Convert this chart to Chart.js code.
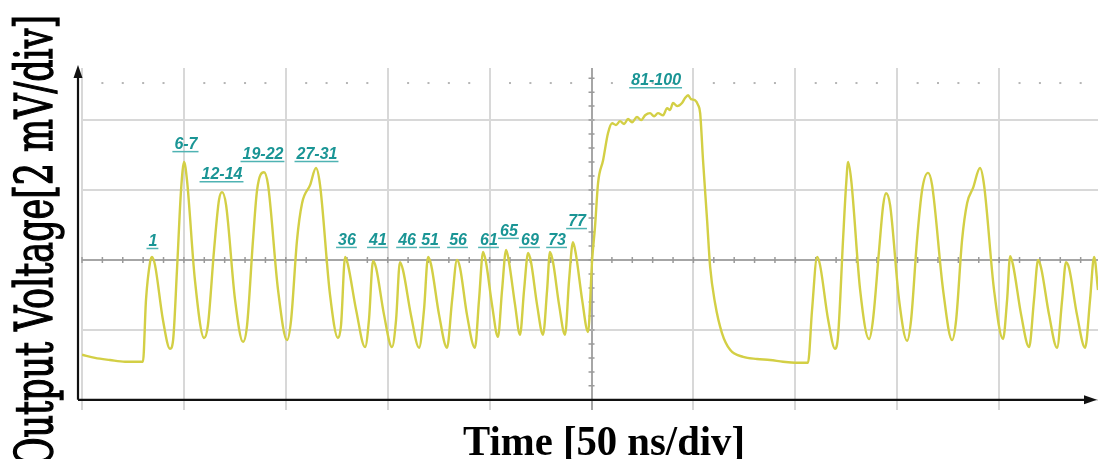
<!DOCTYPE html>
<html>
<head>
<meta charset="utf-8">
<title>Output voltage trace</title>
<script src="https://cdn.jsdelivr.net/npm/chart.js@4.4.1/dist/chart.umd.min.js"></script>
<style>
  html, body { margin: 0; padding: 0; background: #fff; }
  #wrap { width: 1098px; height: 459px; }
</style>
</head>
<body>
<div id="wrap"><canvas id="scope" width="1098" height="459"></canvas></div>
<script>
// trace: time in ns, voltage in mV (0 mV = centre line)
const timeNs = [
  0, 6.4, 13.7, 21.1, 29.9, 31.4, 33.4, 34.3, 35.8, 39.7,
  43.2, 44.7, 46.6, 48.6, 50.1, 51.5, 55.4, 59.9, 61.8, 64.8,
  67.2, 68.7, 70.7, 75.1, 79.0, 81.0, 83.9, 85.9, 89.3, 91.3,
  96.2, 100.6, 102.6, 105.5, 108.0, 111.9, 114.8, 116.8, 121.7, 125.6,
  127.1, 129.1, 130.5, 134.5, 138.9, 140.8, 142.8, 144.3, 148.2, 152.1,
  154.1, 156.0, 157.5, 161.4, 165.4, 167.8, 169.8, 171.3, 175.2, 179.1,
  181.6, 184.0, 185.5, 188.9, 192.8, 194.8, 196.8, 198.2, 201.2, 204.1,
  206.1, 208.1, 209.5, 212.5, 214.9, 216.9, 218.9, 220.3, 223.3, 226.2,
  228.2, 229.6, 231.1, 234.1, 237.0, 239.0, 240.9, 242.4, 245.4, 248.3,
  250.3, 251.7, 253.2, 255.7, 258.1, 260.1, 262.0, 264.0, 266.0, 267.9,
  269.9, 272.3, 274.3, 276.3, 278.7, 280.7, 282.6, 285.1, 287.1, 288.5,
  290.0, 292.0, 294.4, 295.9, 297.4, 298.8, 300.8, 302.3, 303.3, 304.7,
  306.7, 308.2, 310.6, 314.0, 318.0, 324.4, 331.2, 337.6, 344.0, 349.9,
  356.2, 358.2, 360.7, 362.1, 366.1, 369.5, 371.0, 373.4, 374.9, 375.9,
  377.4, 381.8, 386.2, 388.1, 391.1, 393.1, 394.5, 396.5, 400.9, 404.8,
  406.8, 409.7, 412.2, 415.1, 417.1, 422.5, 426.9, 428.9, 431.8, 434.3,
  437.2, 440.6, 442.6, 447.5, 451.9, 453.9, 455.4, 456.8, 460.8, 464.7,
  467.1, 469.1, 470.6, 474.5, 478.4, 480.9, 482.8, 484.3, 488.2, 492.2,
  494.6, 496.6, 498.5
];
const voltageMv = [
  -2.71, -2.80, -2.86, -2.91, -2.91, -1.14, -0.06, 0.09, -0.14, -1.71,
  -2.54, -2.29, -0.29, 2.00, 2.80, 2.29, -0.57, -2.23, -1.86, 0.29,
  1.71, 1.94, 1.57, -1.14, -2.34, -1.86, 0.57, 2.00, 2.51, 2.14,
  -0.86, -2.29, -1.71, 0.57, 1.63, 2.14, 2.63, 2.14, -1.00, -2.23,
  -1.86, 0.09, -0.14, -1.43, -2.49, -1.71, -0.03, -0.23, -1.57, -2.49,
  -1.71, -0.06, -0.29, -1.57, -2.51, -1.43, 0.09, -0.14, -1.57, -2.51,
  -1.14, 0, -0.23, -1.57, -2.51, -1.14, 0.23, -0.06, -1.29, -2.20,
  -0.86, 0.29, -0.06, -1.29, -2.14, -0.86, 0.20, -0.06, -1.29, -2.14,
  -0.86, 0.23, -0.06, -1.29, -2.14, -0.57, 0.51, 0.14, -1.14, -2.06,
  0, 0.94, 2.20, 2.86, 3.63, 3.91, 3.86, 3.97, 3.89, 4.03,
  3.94, 4.09, 4.00, 4.14, 4.20, 4.11, 4.20, 4.14, 4.34, 4.29,
  4.49, 4.40, 4.49, 4.63, 4.71, 4.60, 4.57, 4.43, 4.20, 2.86,
  1.14, -0.20, -1.23, -2.09, -2.57, -2.77, -2.83, -2.86, -2.91, -2.94,
  -2.94, -1.43, 0.09, -0.14, -1.71, -2.54, -2.14, 0.57, 2.14, 2.80,
  2.29, -0.86, -2.26, -1.71, 0.29, 1.57, 1.91, 1.57, -1.14, -2.31,
  -1.71, 0.57, 2.00, 2.49, 2.14, -0.86, -2.29, -1.71, 0.57, 1.63,
  2.06, 2.63, 2.14, -0.86, -2.26, -1.14, 0.11, -0.14, -1.57, -2.49,
  -1.14, 0, -0.23, -1.57, -2.51, -1.14, -0.06, -0.23, -1.57, -2.51,
  -1.14, 0.09, -0.86
];

// pulse-count labels above the peaks (centre time, baseline voltage)
const peakLabels = ['1', '6-7', '12-14', '19-22', '27-31', '36', '41', '46', '51', '56',
                    '61', '65', '69', '73', '77', '81-100'];
const peakLabelTimes = [34.8, 51.0, 68.7, 88.8, 115.3, 130.0, 145.2, 159.5, 170.8, 184.5,
                        199.7, 209.5, 219.8, 233.1, 242.9, 281.7];
const peakLabelVolts = [0.40, 3.17, 2.31, 2.89, 2.89, 0.43, 0.43, 0.43, 0.43, 0.43,
                        0.43, 0.69, 0.43, 0.43, 0.97, 5.00];

// graticule
const timeTicks = [0, 50, 100, 150, 200, 250, 300, 350, 400, 450];
const voltTicks = [-4, -2, 0, 2, 4];
const timeCentre = 250;
const voltCentre = 0;
const minorPerDiv = 5;
const timeMin = 0, timeMax = 498.5;
const voltMin = -4.29, voltMax = 5.49;
const dotRowVolt = 5.06;

const xTitle = 'Time [50 ns/div]';
const yTitle = 'Output Voltage[2 mV/div]';

const points = timeNs.map((t, i) => ({ x: t, y: voltageMv[i] }));

// graticule details, black axes, labels and titles
const scopeDecor = {
  id: 'scopeDecor',
  beforeDatasetsDraw(chart) {
    const { ctx, chartArea } = chart;
    const x = chart.scales.x, y = chart.scales.y;
    const xStep = (timeTicks[1] - timeTicks[0]) / minorPerDiv;
    const yStep = (voltTicks[1] - voltTicks[0]) / minorPerDiv;
    const y0 = y.getPixelForValue(voltCentre);
    const x0 = x.getPixelForValue(timeCentre);
    ctx.save();

    // minor ticks on the centre lines
    ctx.strokeStyle = '#9a9a9a';
    ctx.lineWidth = 1.5;
    ctx.beginPath();
    for (let t = timeMin; t <= timeMax; t += xStep) {
      const px = x.getPixelForValue(t);
      ctx.moveTo(px, y0 - 3);
      ctx.lineTo(px, y0 + 3);
    }
    for (let v = voltCentre; v >= voltMin; v -= yStep) {
      const py = y.getPixelForValue(v);
      ctx.moveTo(x0 - 3, py);
      ctx.lineTo(x0 + 3, py);
    }
    for (let v = voltCentre + yStep; v <= voltMax; v += yStep) {
      const py = y.getPixelForValue(v);
      ctx.moveTo(x0 - 3, py);
      ctx.lineTo(x0 + 3, py);
    }
    ctx.stroke();

    // dotted row at the top
    ctx.fillStyle = '#b5b5b5';
    const pyDot = y.getPixelForValue(dotRowVolt);
    for (let k = 1; timeMin + k * xStep <= timeMax; k++) {
      if (k % minorPerDiv === 0) continue;
      const px = x.getPixelForValue(timeMin + k * xStep);
      ctx.fillRect(px - 1, pyDot - 1, 2, 2);
    }

    // black axes with arrows
    const ax = chartArea.left - 4;
    const ay = y.getPixelForValue(voltTicks[0]);
    const top = chartArea.top;
    const right = chartArea.right - 2;
    ctx.strokeStyle = '#111';
    ctx.fillStyle = '#111';
    ctx.lineWidth = 2.2;
    ctx.beginPath();
    ctx.moveTo(ax, ay);
    ctx.lineTo(right - 8, ay);
    ctx.moveTo(ax, ay);
    ctx.lineTo(ax, top + 8);
    ctx.stroke();
    ctx.beginPath();
    ctx.moveTo(ax, top - 3);
    ctx.lineTo(ax - 4.5, top + 10);
    ctx.lineTo(ax + 4.5, top + 10);
    ctx.closePath();
    ctx.fill();
    ctx.beginPath();
    ctx.moveTo(right + 1, ay);
    ctx.lineTo(right - 12, ay - 4.5);
    ctx.lineTo(right - 12, ay + 4.5);
    ctx.closePath();
    ctx.fill();
    ctx.restore();
  },
  afterDraw(chart) {
    const { ctx } = chart;
    const x = chart.scales.x, y = chart.scales.y;
    ctx.save();

    // peak labels, underlined
    ctx.font = 'italic bold 16px "Liberation Sans", Arial, sans-serif';
    ctx.textAlign = 'center';
    ctx.textBaseline = 'alphabetic';
    peakLabels.forEach((txt, i) => {
      const px = x.getPixelForValue(peakLabelTimes[i]);
      const py = y.getPixelForValue(peakLabelVolts[i]);
      const w = ctx.measureText(txt).width;
      ctx.fillStyle = '#1a9595';
      ctx.fillText(txt, px, py);
      ctx.strokeStyle = '#4fb3b3';
      ctx.lineWidth = 1.5;
      ctx.beginPath();
      ctx.moveTo(px - w / 2 - 2, py + 2.5);
      ctx.lineTo(px + w / 2 + 1, py + 2.5);
      ctx.stroke();
    });

    ctx.fillStyle = '#000';
    // x title
    ctx.font = 'bold 42px "Liberation Serif", "Times New Roman", serif';
    let w = ctx.measureText(xTitle).width;
    ctx.save();
    ctx.translate(604, 455);
    ctx.scale(282 / w, 1);
    ctx.fillText(xTitle, 0, 0);
    ctx.restore();

    // y title, rotated and squeezed along its length
    ctx.font = '52px "DejaVu Serif", serif';
    w = ctx.measureText(yTitle).width;
    ctx.save();
    ctx.translate(52, 240.5);
    ctx.rotate(-Math.PI / 2);
    ctx.scale(451 / w, 1);
    ctx.strokeStyle = '#000';
    ctx.lineWidth = 1.4;
    ctx.fillText(yTitle, 0, 0);
    ctx.strokeText(yTitle, 0, 0);
    ctx.restore();

    ctx.restore();
  }
};

function gridColour(centre, light, dark) {
  return (c) => (Math.abs(c.tick.value - centre) < 1e-6 ? dark : light);
}

new Chart(document.getElementById('scope'), {
  type: 'line',
  data: {
    datasets: [{
      data: points,
      borderColor: '#d3cf45',
      borderWidth: 2.4,
      pointRadius: 0,
      cubicInterpolationMode: 'monotone',
      fill: false
    }]
  },
  options: {
    responsive: false,
    animation: false,
    devicePixelRatio: 1,
    layout: { padding: { left: 82, top: 68, right: 0, bottom: 49 } },
    plugins: { legend: { display: false }, tooltip: { enabled: false } },
    scales: {
      x: {
        type: 'linear',
        min: timeMin,
        max: timeMax,
        afterBuildTicks: (s) => { s.ticks = timeTicks.map(v => ({ value: v })); },
        ticks: { display: false },
        border: { display: false },
        grid: { drawTicks: false, lineWidth: 2, color: gridColour(timeCentre, '#d8d8d8', '#a6a6a6') }
      },
      y: {
        type: 'linear',
        min: voltMin,
        max: voltMax,
        afterBuildTicks: (s) => { s.ticks = voltTicks.map(v => ({ value: v })); },
        ticks: { display: false },
        border: { display: false },
        grid: { drawTicks: false, lineWidth: 2, color: gridColour(voltCentre, '#d8d8d8', '#a6a6a6') }
      }
    }
  },
  plugins: [scopeDecor]
});
</script>
</body>
</html>
